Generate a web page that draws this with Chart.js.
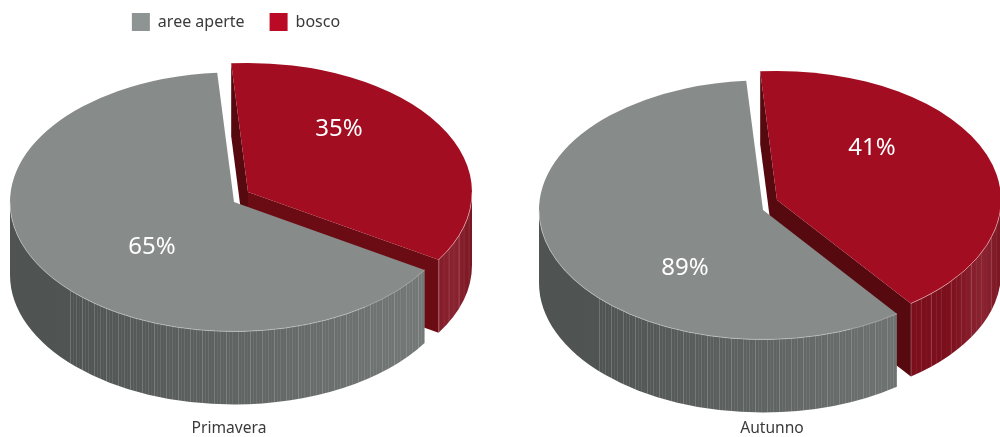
<!DOCTYPE html>
<html>
<head>
<meta charset="utf-8">
<title>Aree aperte e bosco</title>
<style>
  html, body { margin: 0; padding: 0; background: #fff; width: 1000px; height: 437px; overflow: hidden; }
  canvas { position: absolute; top: 0; display: block; }
  #primavera { left: 0; }
  #autunno { left: 500px; }
</style>
<script src="https://cdn.jsdelivr.net/npm/chart.js@4"></script>
</head>
<body>
<canvas id="primavera" width="472" height="437"></canvas>
<canvas id="autunno" width="500" height="437"></canvas>
<script>
// Slices run clockwise from the red edge, so "bosco" comes first; the legend is reversed.
const categories = ['bosco', 'aree aperte'];
const seasons = ['Primavera', 'Autunno'];
const primaveraValues = [35, 65];
const autunnoValues = [41, 89];

const sliceColors = ['#a20d21', '#878c8a'];
const legendColors = ['#bb0a26', '#8e9493'];

// Printed shares are read per 100, and they can add up to more than 100 (Autunno: 130).
// Each slice takes 3.6 degrees per unit, and a slice stops where the circle closes.
class SharePieController extends Chart.PieController {
  calculateTotal() { return 100; }
  _circumference(index, reset) {
    const own = super._circumference(index, reset);
    let used = 0;
    for (let j = 0; j < index; j++) used += super._circumference(j, reset);
    return Math.min(own, Math.max(Math.PI * 2 - used, 0));
  }
}
SharePieController.id = 'sharePie';
Chart.register(SharePieController);

// Draws the slices as a tilted, extruded disc using the arc geometry from the controller.
const tiltedPie = {
  id: 'tiltedPie',
  beforeDatasetDraw(chart, args, opts) {
    const ctx = chart.ctx;
    const arcs = args.meta.data;
    arcs.forEach((arc, i) => {
      const s = opts.slices[i];
      const { startAngle, endAngle, outerRadius: R } = arc;
      const px = (a) => ({ x: s.cx + s.rx * Math.cos(a), y: s.cy + s.ry * Math.sin(a) });
      const depth = opts.depth;

      // Cut faces
      [[startAngle, s.startFace], [endAngle, s.endFace]].forEach(([a, col]) => {
        if (!col) return;
        const p = px(a);
        ctx.beginPath();
        ctx.moveTo(s.cx, s.cy);
        ctx.lineTo(p.x, p.y);
        ctx.lineTo(p.x, p.y + depth);
        ctx.lineTo(s.cx, s.cy + depth);
        ctx.closePath();
        ctx.fillStyle = col;
        ctx.fill();
      });

      // Outer wall of the front half
      const a0 = Math.max(startAngle, 0);
      const a1 = Math.min(endAngle, Math.PI);
      if (a1 > a0) {
        const wall = new Path2D();
        wall.ellipse(s.cx, s.cy, s.rx, s.ry, 0, a0, a1);
        wall.ellipse(s.cx, s.cy + depth, s.rx, s.ry, 0, a1, a0, true);
        wall.closePath();
        const grad = ctx.createLinearGradient(s.cx - s.rx, 0, s.cx + s.rx, 0);
        s.wallStops.forEach(([t, c]) => grad.addColorStop(t, c));
        ctx.fillStyle = grad;
        ctx.fill(wall);

        // Fine vertical streaks along the wall
        ctx.save();
        ctx.clip(wall);
        const xFrom = Math.max(px(a1).x, s.streakFrom);
        const xTo = px(a0).x;
        let k = 0;
        for (let x = xFrom; x < xTo; x += s.streakStep, k++) {
          const alpha = opts.streakAlpha[k % opts.streakAlpha.length];
          ctx.fillStyle = s.streakColor + alpha + ')';
          ctx.fillRect(x, 0, 1, chart.height);
        }
        ctx.restore();
      }

      // Top face
      ctx.save();
      ctx.translate(s.cx, s.cy);
      ctx.scale(s.rx / R, s.ry / R);
      ctx.translate(-arc.x, -arc.y);
      arc.draw(ctx);
      ctx.restore();

      // Pale rim on the front edge
      if (a1 > a0) {
        ctx.beginPath();
        ctx.ellipse(s.cx, s.cy, s.rx, s.ry, 0, a0, a1);
        ctx.strokeStyle = s.rim;
        ctx.lineWidth = 0.8;
        ctx.stroke();
      }
    });

    // Value labels
    ctx.save();
    ctx.fillStyle = '#ffffff';
    ctx.font = '24px "Noto Sans"';
    ctx.textAlign = 'center';
    ctx.textBaseline = 'middle';
    chart.data.datasets[0].data.forEach((v, i) => {
      ctx.fillText(v + '%', opts.slices[i].labelX, opts.slices[i].labelY);
    });
    // Season caption under the disc
    ctx.fillStyle = '#3a3a3c';
    ctx.font = '15.6px "Noto Sans"';
    ctx.fillText(opts.caption, opts.captionX, opts.captionY);
    ctx.restore();
    return false;
  }
};

const redStops = [[0, '#7a0e1a'], [0.88, '#7c0f1c'], [0.96, '#8a2431'], [1, '#7a1522']];
const greyStops = [[0, '#4f5453'], [0.14, '#505554'], [0.5, '#5f6463'], [0.9, '#737877'], [1, '#7a7f7e']];
const streakAlpha = [0.28, 0.1, 0.2, 0.06, 0.32, 0.12, 0.16, 0.04];

function slices(dx, dy, redEndFace, labels) {
  return [
    { cx: 248 + dx, cy: 192 + dy, rx: 224, ry: 129, startFace: '#560a10', endFace: redEndFace,
      wallStops: redStops, streakColor: 'rgba(225,170,180,', streakStep: 5, streakFrom: 0, rim: 'rgba(240,190,190,0.7)',
      labelX: labels[0][0], labelY: labels[0][1] },
    { cx: 234 + dx, cy: 202 + dy, rx: 224, ry: 129.5, startFace: null, endFace: null,
      wallStops: greyStops, streakColor: 'rgba(190,196,194,', streakStep: 3, streakFrom: 70 + dx, rim: 'rgba(205,210,208,0.7)',
      labelX: labels[1][0], labelY: labels[1][1] }
  ];
}

function makeChart(id, values, caption, sliceOpts, captionX, showLegend) {
  return new Chart(document.getElementById(id), {
    type: 'sharePie',
    data: {
      labels: categories,
      datasets: [{ data: values, backgroundColor: sliceColors, borderWidth: 0 }]
    },
    options: {
      responsive: false,
      animation: false,
      rotation: -4.3,
      layout: { padding: { top: showLegend ? -12 : 0 } },
      plugins: {
        tooltip: { enabled: false },
        legend: {
          display: showLegend,
          position: 'top',
          reverse: true,
          labels: {
            boxWidth: 18,
            boxHeight: 18,
            padding: 25,
            color: '#3a3a3c',
            font: { family: '"Noto Sans"', size: 16 },
            generateLabels(chart) {
              return Chart.overrides.pie.plugins.legend.labels.generateLabels(chart).map((item, i) => {
                item.fillStyle = legendColors[i];
                return item;
              });
            }
          }
        },
        tiltedPie: {
          depth: 73,
          streakAlpha,
          slices: sliceOpts,
          caption,
          captionX,
          captionY: 429
        }
      }
    },
    plugins: [tiltedPie]
  });
}

makeChart('primavera', primaveraValues, seasons[0],
  slices(0, 0, '#6b0c14', [[339, 129], [152, 247]]), 229, true);
makeChart('autunno', autunnoValues, seasons[1],
  slices(29, 8, '#560a10', [[372, 148], [185, 268]]), 272, false);
</script>
</body>
</html>
